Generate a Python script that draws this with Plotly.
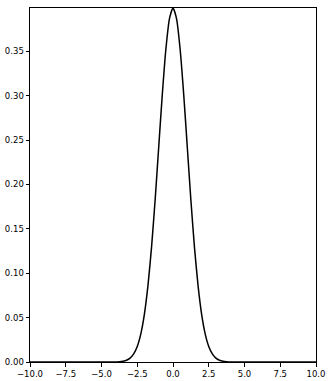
import plotly.graph_objects as go

# Values (symmetric bell shape)
x_vals = [-10.0, -5.0, -4.0, -3.75, -3.5, -3.25, -3.0, -2.75, -2.5, -2.25, -2.0, -1.75, -1.5, -1.25,
          -1.0, -0.75, -0.5, -0.25, 0.0, 0.25, 0.5, 0.75, 1.0, 1.25, 1.5, 1.75, 2.0, 2.25,
          2.5, 2.75, 3.0, 3.25, 3.5, 3.75, 4.0, 5.0, 10.0]
y_vals = [0.0, 0.0, 0.0001, 0.0004, 0.0009, 0.0020, 0.0044, 0.0091, 0.0175, 0.0317, 0.0540, 0.0863, 0.1295, 0.1826,
          0.2420, 0.3011, 0.3521, 0.3867, 0.3989, 0.3867, 0.3521, 0.3011, 0.2420, 0.1826, 0.1295, 0.0863, 0.0540, 0.0317,
          0.0175, 0.0091, 0.0044, 0.0020, 0.0009, 0.0004, 0.0001, 0.0, 0.0]
x_ticks = [-10.0, -7.5, -5.0, -2.5, 0.0, 2.5, 5.0, 7.5, 10.0]
y_ticks = [0.00, 0.05, 0.10, 0.15, 0.20, 0.25, 0.30, 0.35]

fig = go.Figure(go.Scatter(x=x_vals, y=y_vals, mode="lines",
                           line=dict(color="black", width=1.5, shape="spline", smoothing=0.6)))

axis_common = dict(showgrid=False, zeroline=False, showline=True, linecolor="black",
                   linewidth=1, mirror=True, ticks="outside", ticklen=3.5, tickwidth=0.8,
                   tickcolor="black", automargin=False,
                   tickfont=dict(family="DejaVu Sans", size=8.5, color="black"))
fig.update_layout(
    width=330, height=381,
    margin=dict(l=30, r=14, t=8, b=19),
    paper_bgcolor="white", plot_bgcolor="white",
    showlegend=False,
    xaxis=dict(range=[-10, 10], tickvals=x_ticks, tickformat=".1f", **axis_common),
    yaxis=dict(range=[0, 0.3989], tickvals=y_ticks, tickformat=".2f", **axis_common),
)
fig.write_html("out.html")
